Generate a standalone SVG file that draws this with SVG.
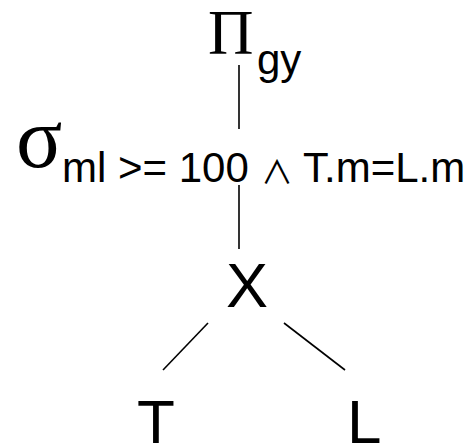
<svg xmlns="http://www.w3.org/2000/svg" width="475" height="445" viewBox="0 0 475 445">
<style>
.serif{font-family:"Liberation Serif","Times New Roman",serif;fill:#000}
.sans{font-family:"Liberation Sans",Arial,sans-serif;fill:#000}
.edge{stroke:#000;stroke-width:1.6;fill:none}
</style>
<rect width="475" height="445" fill="#fff"/>
<g id="connectors">
<line class="edge" x1="239" y1="65" x2="239" y2="129"/>
<line class="edge" x1="239" y1="185" x2="239" y2="249"/>
<line class="edge" x1="208" y1="323" x2="163" y2="370"/>
<line class="edge" x1="284" y1="323" x2="345" y2="370"/>
</g>
<g id="project">
<text class="serif" x="208" y="54" font-size="63">Π</text>
<text class="sans" x="257" y="74" font-size="42">gy</text>
</g>
<g id="select">
<text class="serif" x="16" y="167" font-size="86">σ</text>
<text class="sans" y="182" font-size="42"><tspan x="62">ml &gt;= 100</tspan><tspan x="303">T.m=L.m</tspan></text>
<text x="261" y="184" font-family="'Noto Sans CJK JP', sans-serif" font-size="32">∧</text>
</g>
<g id="cross">
<text class="sans" x="247" y="307" font-size="63" text-anchor="middle">X</text>
</g>
<g id="T">
<text class="sans" x="137" y="443" font-size="62">T</text>
</g>
<g id="L">
<text class="sans" x="347" y="443" font-size="62">L</text>
</g>
</svg>
